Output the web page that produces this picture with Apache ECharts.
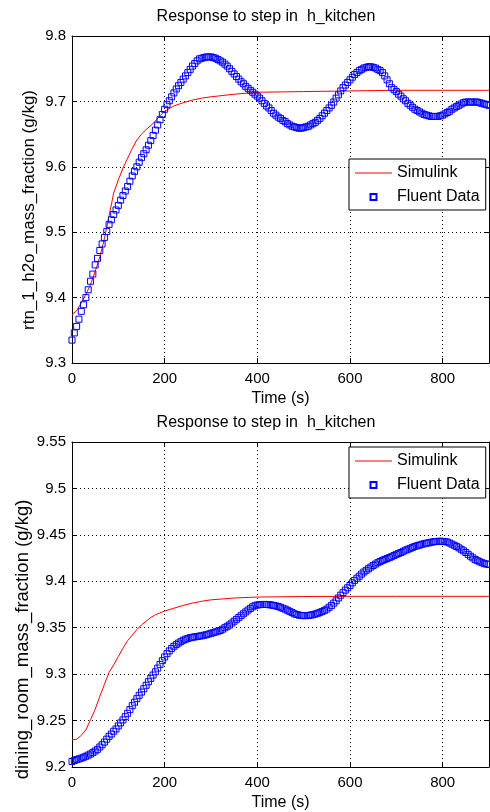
<!DOCTYPE html>
<html>
<head>
<meta charset="utf-8">
<title>Response to step in h_kitchen</title>
<script src="https://cdn.jsdelivr.net/npm/echarts@6/dist/echarts.min.js"></script>
<style>
  html, body { margin: 0; padding: 0; background: #fff; }
  #chart { width: 490px; height: 812px; }
</style>
</head>
<body>
<div id="chart"></div>
<script>
// sample times (s)
const fluentTime = [0, 5, 10, 15, 20, 25, 30, 35, 40, 45, 50, 55, 60, 65, 70, 75, 80, 85, 90, 95,
  100, 105, 110, 115, 120, 125, 130, 135, 140, 145, 150, 155, 160, 165, 170, 175, 180, 185, 190, 195,
  200, 205, 210, 215, 220, 225, 230, 235, 240, 245, 250, 255, 260, 265, 270, 275, 280, 285, 290, 295,
  300, 305, 310, 315, 320, 325, 330, 335, 340, 345, 350, 355, 360, 365, 370, 375, 380, 385, 390, 395,
  400, 405, 410, 415, 420, 425, 430, 435, 440, 445, 450, 455, 460, 465, 470, 475, 480, 485, 490, 495,
  500, 505, 510, 515, 520, 525, 530, 535, 540, 545, 550, 555, 560, 565, 570, 575, 580, 585, 590, 595,
  600, 605, 610, 615, 620, 625, 630, 635, 640, 645, 650, 655, 660, 665, 670, 675, 680, 685, 690, 695,
  700, 705, 710, 715, 720, 725, 730, 735, 740, 745, 750, 755, 760, 765, 770, 775, 780, 785, 790, 795,
  800, 805, 810, 815, 820, 825, 830, 835, 840, 845, 850, 855, 860, 865, 870, 875, 880, 885, 890, 895,
  900]
const simTime = [0, 10, 20, 30, 40, 50, 60, 70, 80, 90, 100, 110, 120, 130, 140, 150, 160, 170, 180, 190,
  200, 220, 240, 260, 280, 300, 350, 400, 500, 600, 700, 800, 900]

// top plot: rtn_1_h2o_mass_fraction
const topFluent = [9.335, 9.346, 9.356, 9.367, 9.379, 9.389, 9.400, 9.412, 9.425, 9.436, 9.450, 9.460, 9.472, 9.482, 9.492, 9.501, 9.512, 9.519, 9.527, 9.534,
  9.541, 9.549, 9.556, 9.563, 9.570, 9.578, 9.586, 9.593, 9.600, 9.607, 9.614, 9.620, 9.626, 9.633, 9.640, 9.648, 9.656, 9.664, 9.672, 9.680,
  9.688, 9.695, 9.701, 9.707, 9.713, 9.719, 9.724, 9.729, 9.734, 9.739, 9.744, 9.749, 9.754, 9.758, 9.762, 9.765, 9.766, 9.767, 9.768, 9.768,
  9.768, 9.767, 9.766, 9.764, 9.762, 9.760, 9.757, 9.754, 9.750, 9.746, 9.742, 9.738, 9.734, 9.730, 9.727, 9.723, 9.720, 9.717, 9.714, 9.711,
  9.708, 9.705, 9.701, 9.697, 9.693, 9.690, 9.686, 9.682, 9.679, 9.676, 9.674, 9.671, 9.669, 9.666, 9.664, 9.662, 9.661, 9.660, 9.659, 9.659,
  9.660, 9.661, 9.662, 9.664, 9.666, 9.668, 9.671, 9.674, 9.678, 9.682, 9.686, 9.690, 9.694, 9.699, 9.705, 9.710, 9.716, 9.721, 9.725, 9.729,
  9.733, 9.737, 9.741, 9.744, 9.747, 9.749, 9.751, 9.752, 9.753, 9.753, 9.752, 9.751, 9.749, 9.747, 9.744, 9.739, 9.733, 9.727, 9.721, 9.718,
  9.715, 9.711, 9.708, 9.704, 9.701, 9.697, 9.694, 9.691, 9.688, 9.686, 9.684, 9.682, 9.680, 9.679, 9.678, 9.677, 9.677, 9.677, 9.677, 9.678,
  9.679, 9.681, 9.683, 9.685, 9.688, 9.690, 9.692, 9.694, 9.696, 9.698, 9.699, 9.699, 9.699, 9.699, 9.699, 9.699, 9.698, 9.697, 9.696, 9.695,
  9.694]
const topSim = [9.374, 9.380, 9.392, 9.405, 9.420, 9.440, 9.462, 9.490, 9.525, 9.560, 9.580, 9.598, 9.613, 9.628, 9.641, 9.650, 9.657, 9.663, 9.670, 9.678,
  9.685, 9.693, 9.698, 9.702, 9.705, 9.707, 9.711, 9.714, 9.715, 9.716, 9.717, 9.717, 9.717]

// bottom plot: dining_room_mass_fraction
const bottomFluent = [9.2060, 9.2070, 9.2080, 9.2087, 9.2095, 9.2105, 9.2115, 9.2128, 9.2140, 9.2155, 9.2172, 9.2190, 9.2215, 9.2240, 9.2268, 9.2300, 9.2330, 9.2355, 9.2385, 9.2410,
  9.2442, 9.2475, 9.2507, 9.2542, 9.2578, 9.2618, 9.2660, 9.2698, 9.2736, 9.2772, 9.2807, 9.2843, 9.2880, 9.2918, 9.2955, 9.2990, 9.3025, 9.3065, 9.3105, 9.3145,
  9.3185, 9.3220, 9.3250, 9.3277, 9.3300, 9.3318, 9.3335, 9.3350, 9.3365, 9.3376, 9.3385, 9.3392, 9.3397, 9.3401, 9.3405, 9.3409, 9.3413, 9.3419, 9.3425, 9.3432,
  9.3440, 9.3447, 9.3455, 9.3462, 9.3470, 9.3484, 9.3500, 9.3515, 9.3530, 9.3550, 9.3570, 9.3590, 9.3610, 9.3630, 9.3650, 9.3670, 9.3690, 9.3708, 9.3725, 9.3737,
  9.3745, 9.3748, 9.3750, 9.3751, 9.3750, 9.3748, 9.3745, 9.3740, 9.3735, 9.3728, 9.3720, 9.3710, 9.3700, 9.3688, 9.3676, 9.3663, 9.3650, 9.3642, 9.3635, 9.3632,
  9.3630, 9.3630, 9.3632, 9.3636, 9.3640, 9.3647, 9.3655, 9.3665, 9.3675, 9.3687, 9.3700, 9.3720, 9.3740, 9.3765, 9.3790, 9.3820, 9.3850, 9.3878, 9.3905, 9.3930,
  9.3955, 9.3983, 9.4010, 9.4033, 9.4055, 9.4078, 9.4100, 9.4118, 9.4135, 9.4153, 9.4170, 9.4185, 9.4200, 9.4213, 9.4225, 9.4235, 9.4245, 9.4255, 9.4265, 9.4278,
  9.4290, 9.4300, 9.4310, 9.4323, 9.4335, 9.4345, 9.4355, 9.4365, 9.4375, 9.4383, 9.4390, 9.4398, 9.4405, 9.4410, 9.4415, 9.4420, 9.4425, 9.4428, 9.4430, 9.4431,
  9.4430, 9.4427, 9.4423, 9.4412, 9.4400, 9.4388, 9.4375, 9.4360, 9.4345, 9.4328, 9.4310, 9.4290, 9.4270, 9.4252, 9.4235, 9.4222, 9.4210, 9.4200, 9.4190, 9.4185,
  9.4180]
const bottomSim = [9.229, 9.230, 9.234, 9.240, 9.251, 9.262, 9.276, 9.289, 9.302, 9.310, 9.319, 9.328, 9.336, 9.342, 9.348, 9.353, 9.357, 9.361, 9.364, 9.366,
  9.368, 9.371, 9.374, 9.3765, 9.3785, 9.380, 9.382, 9.383, 9.3836, 9.3838, 9.3838, 9.3838, 9.3838]

const titleText = 'Response to step in  h_kitchen'
const xName = 'Time (s)'
const topYName = 'rtn_1_h2o_mass_fraction (g/kg)'
const bottomYName = 'dining_room_mass_fraction (g/kg)'

const FONT = '"Liberation Sans", Arial, Helvetica, sans-serif'

const pairs = (xs, ys) => xs.map((x, i) => [x, ys[i]])

const chart = echarts.init(document.getElementById('chart'), null, { renderer: 'canvas' })

const dotted = { show: true, lineStyle: { color: '#000', width: 1, type: [1, 3] } }

const xMain = (gridIndex) => ({
  type: 'value',
  gridIndex,
  min: 0,
  max: 900,
  interval: 200,
  name: xName,
  nameLocation: 'middle',
  nameGap: 28,
  nameTextStyle: { fontSize: 16, color: '#000', fontFamily: FONT },
  axisLine: { show: true, onZero: false, lineStyle: { color: '#000', width: 1 } },
  axisTick: { show: true, inside: true, length: 5, lineStyle: { color: '#000' } },
  axisLabel: { color: '#000', fontSize: 15, fontFamily: FONT, margin: 8, showMaxLabel: false },
  splitLine: dotted
})

const xMirror = (gridIndex) => ({
  type: 'value',
  gridIndex,
  position: 'top',
  min: 0,
  max: 900,
  interval: 200,
  axisLine: { show: true, onZero: false, lineStyle: { color: '#000', width: 1 } },
  axisTick: { show: true, inside: true, length: 5, lineStyle: { color: '#000' } },
  axisLabel: { show: false },
  splitLine: { show: false }
})

// padding shifts the rotated name along the axis (left pad = up, right pad = down)
const yMain = (gridIndex, min, max, interval, name, gap, fontSize, padding) => ({
  type: 'value',
  gridIndex,
  min,
  max,
  interval,
  name,
  nameLocation: 'middle',
  nameRotate: 90,
  nameGap: gap,
  nameMoveOverlap: false,
  nameTextStyle: { fontSize, color: '#000', fontFamily: FONT, padding },
  axisLine: { show: true, onZero: false, lineStyle: { color: '#000', width: 1 } },
  axisTick: { show: true, inside: true, length: 5, lineStyle: { color: '#000' } },
  axisLabel: { color: '#000', fontSize: 15, fontFamily: FONT, margin: 6 },
  splitLine: dotted
})

const yMirror = (gridIndex, min, max, interval) => ({
  type: 'value',
  gridIndex,
  position: 'right',
  min,
  max,
  interval,
  axisLine: { show: true, onZero: false, lineStyle: { color: '#000', width: 1 } },
  axisTick: { show: true, inside: true, length: 5, lineStyle: { color: '#000' } },
  axisLabel: { show: false },
  splitLine: { show: false }
})

const legendBox = (top) => ({
  left: 349,
  top,
  orient: 'vertical',
  selectedMode: false,
  padding: [6, 6, 5, 6],
  itemGap: 8,
  itemWidth: 37,
  itemHeight: 14,
  backgroundColor: '#fff',
  borderColor: '#000',
  borderWidth: 1,
  borderRadius: 0,
  textStyle: { fontSize: 16, color: '#000', fontFamily: FONT },
  data: [
    { name: 'Simulink', icon: 'path://M0,0M37,14M0,6.5h37v1h-37z' },
    { name: 'Fluent Data', icon: 'path://M0,0M14,14M4,4h6v6h-6z' }
  ]
})

const simLine = (xi, yi, data) => ({
  name: 'Simulink',
  type: 'line',
  xAxisIndex: xi,
  yAxisIndex: yi,
  data,
  symbol: 'none',
  smooth: false,
  lineStyle: { color: '#ff0000', width: 1 },
  itemStyle: { color: '#ff0000' },
  z: 2
})

const fluentPoints = (xi, yi, data) => ({
  name: 'Fluent Data',
  type: 'scatter',
  xAxisIndex: xi,
  yAxisIndex: yi,
  data,
  symbol: 'rect',
  symbolSize: 6,
  itemStyle: { color: 'rgba(0,0,0,0)', borderColor: '#0000ff', borderWidth: 1, opacity: 1 },
  z: 3
})

const option = {
  backgroundColor: '#fff',
  animation: false,
  textStyle: { fontFamily: FONT },
  title: [
    { text: titleText, left: 266, top: 9, textAlign: 'center', padding: 0,
      textStyle: { fontSize: 16, fontWeight: 'normal', color: '#000', fontFamily: FONT } },
    { text: titleText, left: 266, top: 415, textAlign: 'center', padding: 0,
      textStyle: { fontSize: 16, fontWeight: 'normal', color: '#000', fontFamily: FONT } }
  ],
  legend: [legendBox(159), legendBox(447)],
  grid: [
    { left: 72, top: 36, width: 417, height: 327, containLabel: false },
    { left: 72, top: 442, width: 417, height: 326, containLabel: false }
  ],
  xAxis: [xMain(0), xMirror(0), xMain(1), xMirror(1)],
  yAxis: [
    yMain(0, 9.3, 9.8, 0.1, topYName, 34, 17, [0, 21, 0, 0]),
    yMirror(0, 9.3, 9.8, 0.1),
    yMain(1, 9.2, 9.55, 0.05, bottomYName, 40, 18.5, [0, 70, 0, 0]),
    yMirror(1, 9.2, 9.55, 0.05)
  ],
  series: [
    simLine(0, 0, pairs(simTime, topSim)),
    fluentPoints(0, 0, pairs(fluentTime, topFluent)),
    simLine(2, 2, pairs(simTime, bottomSim)),
    fluentPoints(2, 2, pairs(fluentTime, bottomFluent))
  ]
}

chart.setOption(option)

window.addEventListener('resize', () => {
  chart.resize()
})
</script>
</body>
</html>
